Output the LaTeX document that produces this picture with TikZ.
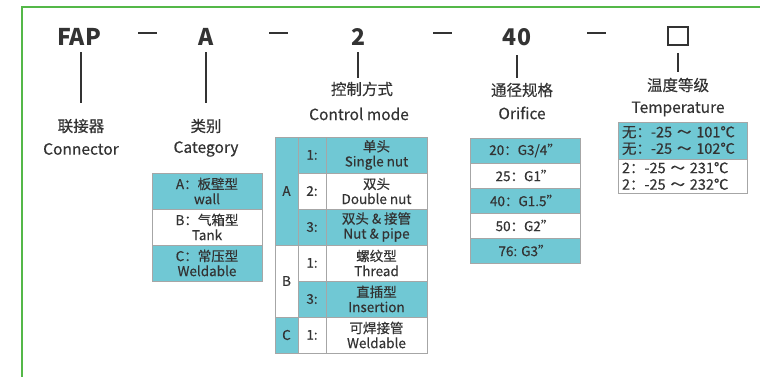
\documentclass[tikz,border=0pt]{standalone}
\usepackage{fontspec}
\setmainfont{Noto Sans CJK SC}[UprightFeatures={FakeBold=0.4}]
\usepackage{tikz}
\definecolor{frameg}{RGB}{84,184,72}
\definecolor{cellblue}{RGB}{112,200,212}
\definecolor{txt}{RGB}{51,51,51}
\tikzstyle{head}=[font=\fontsize{23}{26}\selectfont\bfseries, text=txt, inner sep=0pt, minimum height=30]
\tikzstyle{dashsep}=[fill=txt, inner sep=0pt, minimum width=19, minimum height=2]
\tikzstyle{labelsty}=[font=\fontsize{15.5}{18}\selectfont, text=txt, inner sep=0pt]
\tikzstyle{stem}=[line width=1.6, draw=txt]
\tikzstyle{cell}=[draw=gray!70, line width=0.8, inner sep=0pt, font=\fontsize{13.5}{15}\selectfont, text=txt, align=center]
\tikzstyle{cellb}=[cell, fill=cellblue]
\tikzstyle{cellw}=[cell, fill=white]
\tikzstyle{tcell}=[cell, align=left, inner xsep=4, text width=121, minimum width=129, font=\fontsize{14.5}{16.5}\selectfont]

\begin{document}
\begin{tikzpicture}[x=1pt,y=-1pt]
				\useasboundingbox (0,0) rectangle (760,377);
				\draw[frameg, line width=2.5] (22,377) -- (22,7) -- (760,7);
				
				% model code
				\node[head] (fap) at (79,37) {FAP};
				\node[dashsep] (d1) at (147,33) {};
				\node[head] (cat) at (206,37) {A};
				\node[dashsep] (d2) at (278,33) {};
				\node[head] (ctl) at (358,37) {2};
				\node[dashsep] (d3) at (442,33) {};
				\node[head] (ori) at (517,37) {40};
				\node[dashsep] (d4) at (596,33) {};
				\node[draw=txt, line width=1.6, minimum width=20, minimum height=18, inner sep=0pt] (tmp) at (678,36) {};
				
				\coordinate (fapE) at (81,103);
				\coordinate (catE) at (206,103);
				\coordinate (ctlE) at (358,78);
				\coordinate (oriE) at (517,78);
				\coordinate (tmpE) at (678,72);
				
				\draw[stem] (fap.south-|fapE)edge(fapE);
				\draw[stem] (cat)edge(catE);
				\draw[stem] (ctl)edge(ctlE);
				\draw[stem,shorten <=3pt] (ori)edge(oriE);
				\draw[stem,shorten <=7pt] (tmp)edge(tmpE);
				
				% labels
				\node[labelsty] (lfap) at (81,126) {联接器};
				\node[labelsty] (lfapE) at (81,149) {Connector};
				\node[labelsty] (lcat) at (206,126) {类别};
				\node[labelsty] (lcatE) at (206,149) {Category};
				\node[labelsty] (lctl) at (362,89) {控制方式};
				\node[labelsty] (lctlE) at (359,114) {Control mode};
				\node[labelsty] (lori) at (522,90) {通径规格};
				\node[labelsty] (loriE) at (522,113) {Orifice};
				\node[labelsty] (ltmp) at (678,85) {温度等级};
				\node[labelsty] (ltmpE) at (678,109) {Temperature};
				
				% category
				\node[cellb, minimum width=110, minimum height=36] (catA) at (207,191) {A：板壁型\\wall};
				\node[cellw, minimum width=110, minimum height=36] (catB) at (207,227) {B：气箱型\\Tank};
				\node[cellb, minimum width=110, minimum height=36] (catC) at (207,263) {C：常压型\\Weldable};
				
				% control mode
				\node[cellb, minimum width=23, minimum height=108] (grA) at (286.5,191) {A};
				\node[cellw, minimum width=23, minimum height=72] (grB) at (286.5,281) {B};
				\node[cellb, minimum width=23, minimum height=36] (grC) at (286.5,335) {C};
				\node[cellb, minimum width=28, minimum height=36] (nA1) at (312,155) {1:};
				\node[cellw, minimum width=28, minimum height=36] (nA2) at (312,191) {2:};
				\node[cellb, minimum width=28, minimum height=36] (nA3) at (312,227) {3:};
				\node[cellw, minimum width=28, minimum height=36] (nB1) at (312,263) {1:};
				\node[cellb, minimum width=28, minimum height=36] (nB3) at (312,299) {3:};
				\node[cellw, minimum width=28, minimum height=36] (nC1) at (312,335) {1:};
				\node[cellb, minimum width=101, minimum height=36] (mA1) at (376.5,155) {单头\\Single nut};
				\node[cellw, minimum width=101, minimum height=36] (mA2) at (376.5,191) {双头\\Double nut};
				\node[cellb, minimum width=101, minimum height=36] (mA3) at (376.5,227) {双头 \& 接管\\Nut \& pipe};
				\node[cellw, minimum width=101, minimum height=36] (mB1) at (376.5,263) {螺纹型\\Thread};
				\node[cellb, minimum width=101, minimum height=36] (mB3) at (376.5,299) {直插型\\Insertion};
				\node[cellw, minimum width=101, minimum height=36] (mC1) at (376.5,335) {可焊接管\\Weldable};
				
				% orifice
				\node[cellb, minimum width=110, minimum height=25] (o20) at (525,150.5) {20：G3/4"};
				\node[cellw, minimum width=110, minimum height=25] (o25) at (525,175.5) {25：G1"};
				\node[cellb, minimum width=110, minimum height=25] (o40) at (525,200.5) {40：G1.5"};
				\node[cellw, minimum width=110, minimum height=25] (o50) at (525,225.5) {50：G2"};
				\node[cellb, minimum width=110, minimum height=25] (o76) at (525,250.5) {76: G3"};
				
				% temperature
				\node[tcell, fill=cellblue, minimum height=37] (t1) at (682.5,140.5) {无：-25 ～ 101℃\\无：-25 ～ 102℃};
				\node[tcell, fill=white, minimum height=34] (t2) at (682.5,176) {2：-25 ～ 231℃\\2：-25 ～ 232℃};
			\end{tikzpicture}
\end{document}
